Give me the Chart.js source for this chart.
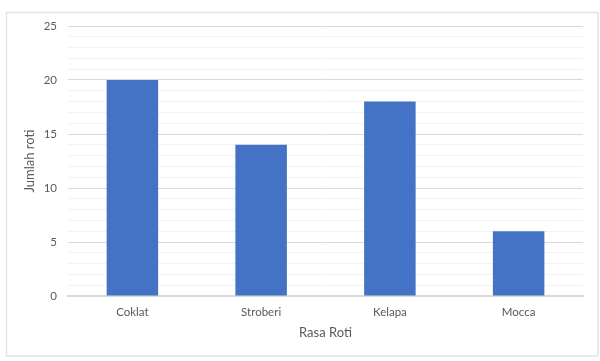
<!DOCTYPE html>
<html>
<head>
<meta charset="utf-8">
<script src="https://cdn.jsdelivr.net/npm/chart.js@4"></script>
<style>
  html, body { margin: 0; padding: 0; background: #fff; }
  #wrap { width: 600px; height: 361px; position: relative; }
</style>
</head>
<body>
<div id="wrap"><canvas id="rotiChart" width="600" height="361"></canvas></div>
<script>
const flavours = ['Coklat', 'Stroberi', 'Kelapa', 'Mocca'];
const breadCount = [20, 14, 18, 6];
const yMax = 25;

// light frame round the whole chart, like the spreadsheet chart box
const frame = {
    id: 'frame',
    beforeDraw(chart) {
        const c = chart.ctx;
        c.save();
        c.fillStyle = '#fff';
        c.fillRect(0, 0, chart.width, chart.height);
        c.strokeStyle = '#e3e3e3';
        c.lineWidth = 1.5;
        c.strokeRect(6.5, 12.5, 591.5, 343.5);
        c.restore();
    }
};

const ctx = document.getElementById('rotiChart').getContext('2d');

new Chart(ctx, {
    type: 'bar',
    data: {
        labels: flavours,
        datasets: [{
            label: 'Jumlah roti',
            data: breadCount,
            backgroundColor: '#4472c4',
            borderWidth: 0,
            categoryPercentage: 1,
            barPercentage: 0.4
        }]
    },
    options: {
        responsive: false,
        animation: false,
        layout: { padding: { left: 18, right: 17, top: 26, bottom: 0 } },
        plugins: { legend: { display: false }, tooltip: { enabled: false } },
        scales: {
            x: {
                grid: { display: false, drawTicks: false },
                border: { color: '#d9d9d9', width: 2 },
                ticks: { color: '#595959', font: { family: 'Lato', size: 11.5 }, padding: 9 },
                title: { display: true, text: 'Rasa Roti', color: '#595959', font: { family: 'Lato', size: 13 }, padding: { top: 4, bottom: 20 } },
                afterFit: s => { s.height = 65; }
            },
            y: {
                min: 0,
                max: yMax,
                border: { display: false },
                grid: {
                    color: c => (c.tick && c.tick.value % 5 === 0) ? '#d9d9d9' : '#f2f2f2',
                    drawTicks: false
                },
                ticks: {
                    stepSize: 1,
                    autoSkip: false,
                    padding: 11,
                    color: '#595959',
                    font: { family: 'Lato', size: 11.5 },
                    callback: v => v % 5 === 0 ? v : ''
                },
                title: { display: true, text: 'Jumlah roti', color: '#595959', font: { family: 'Lato', size: 13 }, padding: { bottom: 2 } },
                afterFit: s => { s.width = 50; }
            }
        }
    },
    plugins: [frame]
});
</script>
</body>
</html>
